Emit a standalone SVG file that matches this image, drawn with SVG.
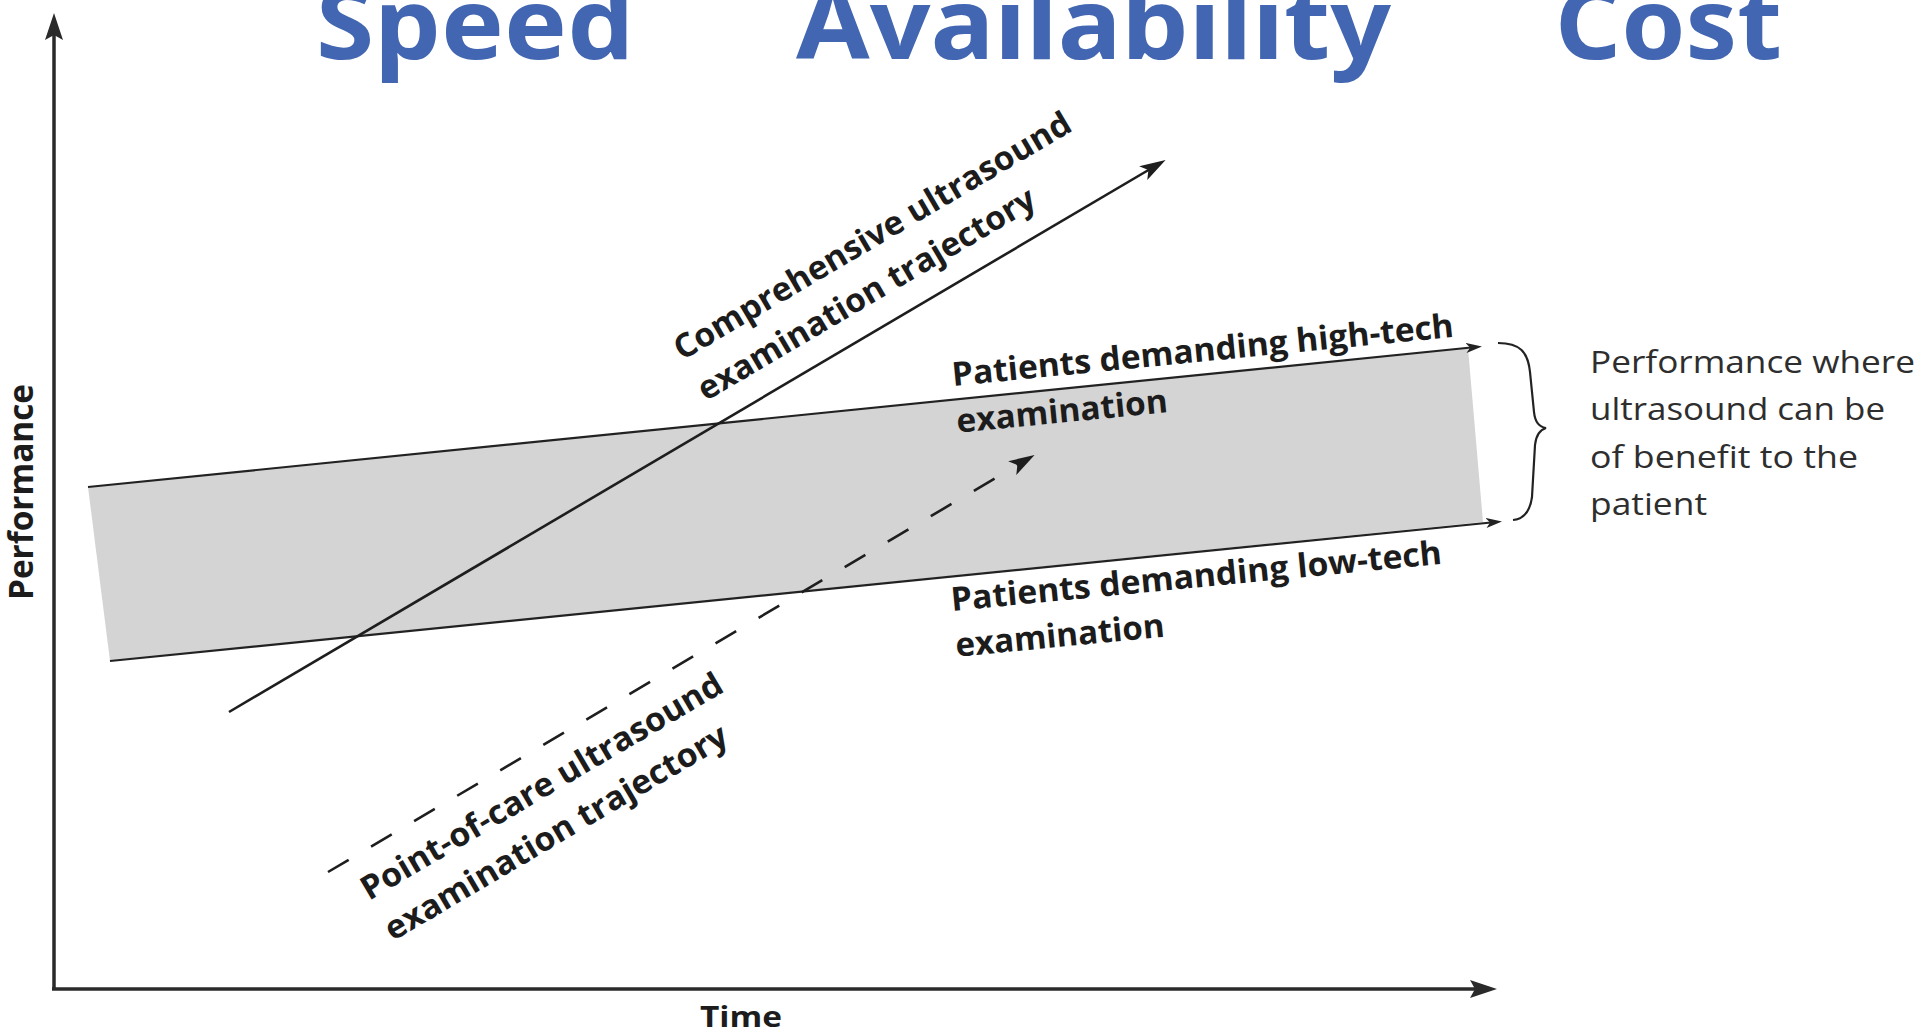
<svg xmlns="http://www.w3.org/2000/svg" width="1920" height="1030" viewBox="0 0 1920 1030">
  <style>
    .title { font-family: "Noto Sans", "Open Sans", sans-serif; font-weight: 700; font-size: 98px; fill: #4266b1; }
    .lbl { font-family: "Open Sans", "Noto Sans", sans-serif; font-weight: 700; font-size: 33px; fill: #1c1c1c; }
    .axl { font-family: "Open Sans", "Noto Sans", sans-serif; font-weight: 700; fill: #1c1c1c; }
    .note { font-family: "Open Sans", "Noto Sans", sans-serif; font-weight: 400; font-size: 31px; fill: #2e2e2e; }
    .axis { stroke: #2a2a2a; stroke-width: 3.5; fill: none; }
    .edge { stroke: #222; stroke-width: 2.2; fill: none; }
    .traj { stroke: #1e1e1e; stroke-width: 2.6; fill: none; }
  </style>
  <defs>
    <marker id="axArrow" viewBox="0 0 27 18" refX="15" refY="9" markerWidth="27" markerHeight="18" markerUnits="userSpaceOnUse" orient="auto">
      <path d="M0,0 L27,9 L0,18 L5,9 z" fill="#2a2a2a"/>
    </marker>
    <marker id="edgeArrow" viewBox="0 0 16 10" refX="10" refY="5" markerWidth="16" markerHeight="10" markerUnits="userSpaceOnUse" orient="auto">
      <path d="M0,0 L16,5 L0,10 L4,5 z" fill="#222"/>
    </marker>
    <marker id="trajArrow" viewBox="0 0 26 16" refX="16" refY="8" markerWidth="26" markerHeight="16" markerUnits="userSpaceOnUse" orient="auto">
      <path d="M0,0 L26,8 L0,16 L6,8 z" fill="#1e1e1e"/>
    </marker>
  </defs>
  <rect x="0" y="0" width="1920" height="1030" fill="#ffffff"/>

  <g id="title">
    <text class="title" x="316" y="59" textLength="318" lengthAdjust="spacingAndGlyphs">Speed</text>
    <text class="title" x="796" y="59" textLength="595" lengthAdjust="spacingAndGlyphs">Availability</text>
    <text class="title" x="1555" y="59" textLength="227" lengthAdjust="spacingAndGlyphs">Cost</text>
  </g>

  <g id="band">
    <polygon points="88,487 1468,348 1483,522 110,661" fill="#d4d4d4"/>
  </g>

  <g id="connectors">
    <line class="axis" x1="54" y1="990" x2="54" y2="25" marker-end="url(#axArrow)"/>
    <line class="axis" x1="52" y1="989" x2="1485" y2="989" marker-end="url(#axArrow)"/>
    <line class="edge" x1="88" y1="487" x2="1476" y2="347" marker-end="url(#edgeArrow)"/>
    <line class="edge" x1="110" y1="661" x2="1496" y2="522" marker-end="url(#edgeArrow)"/>
    <line class="traj" x1="229" y1="712" x2="1157" y2="165" marker-end="url(#trajArrow)"/>
    <line class="traj" x1="328" y1="872" x2="1026" y2="460" stroke-dasharray="24 26" marker-end="url(#trajArrow)"/>
    <path class="edge" stroke-width="2.6" d="M1498,343 C1520,343 1528,352 1530,372 L1534,412 C1535,422 1539,427 1546,428 C1539,430 1536,436 1535,445 L1532,497 C1530,512 1524,519 1513,520"/>
  </g>

  <g id="axis-labels">
    <text class="axl" font-size="34" transform="translate(33,600) rotate(-90)" textLength="216" lengthAdjust="spacingAndGlyphs">Performance</text>
    <text class="axl" font-size="28" x="700" y="1027" textLength="82" lengthAdjust="spacingAndGlyphs">Time</text>
  </g>

  <g id="high-tech">
    <text class="lbl" transform="translate(953,386) rotate(-5.6)">
      <tspan x="0" y="0" textLength="504" lengthAdjust="spacingAndGlyphs">Patients demanding high-tech</tspan>
      <tspan x="0" y="47" textLength="212" lengthAdjust="spacingAndGlyphs">examination</tspan>
    </text>
  </g>

  <g id="low-tech">
    <text class="lbl" transform="translate(952,611) rotate(-5.5)">
      <tspan x="0" y="0" textLength="493" lengthAdjust="spacingAndGlyphs">Patients demanding low-tech</tspan>
      <tspan x="0" y="46" textLength="210" lengthAdjust="spacingAndGlyphs">examination</tspan>
    </text>
  </g>

  <g id="comprehensive">
    <text class="lbl" transform="translate(682,361) rotate(-30.5)">
      <tspan x="0" y="0" textLength="455" lengthAdjust="spacingAndGlyphs">Comprehensive ultrasound</tspan>
      <tspan x="0" y="47" textLength="386" lengthAdjust="spacingAndGlyphs">examination trajectory</tspan>
    </text>
  </g>

  <g id="point-of-care">
    <text class="lbl" transform="translate(369,901) rotate(-30.5)">
      <tspan x="0" y="0" textLength="414" lengthAdjust="spacingAndGlyphs">Point-of-care ultrasound</tspan>
      <tspan x="0" y="47" textLength="392" lengthAdjust="spacingAndGlyphs">examination trajectory</tspan>
    </text>
  </g>

  <g id="benefit-note">
    <text class="note">
      <tspan x="1590" y="373" textLength="325" lengthAdjust="spacingAndGlyphs">Performance where</tspan>
      <tspan x="1590" y="420" textLength="295" lengthAdjust="spacingAndGlyphs">ultrasound can be</tspan>
      <tspan x="1590" y="468" textLength="268" lengthAdjust="spacingAndGlyphs">of benefit to the</tspan>
      <tspan x="1590" y="515" textLength="117" lengthAdjust="spacingAndGlyphs">patient</tspan>
    </text>
  </g>
</svg>
